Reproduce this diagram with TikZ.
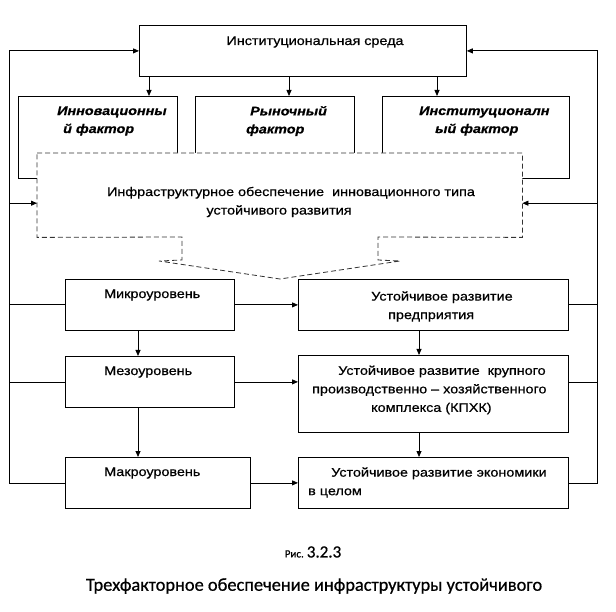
\documentclass[tikz,border=0pt]{standalone}
\usepackage{fontspec}
\setmainfont{Liberation Sans}[FakeStretch=1.15,FakeBold=0.6]
\newfontfamily\capfont{Carlito}[FakeBold=0.6]
\usetikzlibrary{arrows.meta}
\begin{document}
\begin{tikzpicture}[x=1pt,y=-1pt,
  box/.style={draw,line width=0.8pt,inner sep=0pt,anchor=north west},
  ln/.style={line width=0.8pt},
  arr/.style={line width=0.8pt,-{Triangle[length=6pt,width=5pt]}},
  txt/.style={inner sep=0pt,align=left,font=\fontsize{12.5}{18.5}\selectfont},
  fac/.style={inner sep=0pt,align=left,anchor=west,font=\fontsize{12.5}{18}\selectfont\bfseries\itshape},
  dsh/.style={line width=0.8pt,dash pattern=on 5pt off 3pt,draw=black!80}]
\useasboundingbox (0,0) rectangle (616,612);
\fill[white] (0,0) rectangle (616,612);
% top and factor boxes
\node[box,minimum width=327pt,minimum height=51pt] (top) at (139,25) {};
\node[box,minimum width=159pt,minimum height=82pt] (f1) at (18,96) {};
\node[box,minimum width=159pt,minimum height=82pt] (f2) at (195,96) {};
\node[box,minimum width=187pt,minimum height=82pt] (f3) at (382,96) {};
\node[txt] (ttop) at (315,42) {Институциональная среда};
\node[fac] (tf1) at (57,121) {Инновационны\\\hspace*{6pt}й фактор};
\node[fac] (tf2) at (246,121) {\hspace*{4pt}Рыночный\\фактор};
\node[fac] (tf3) at (419,121) {Институционалн\\\hspace*{16pt}ый фактор};
% infrastructure box with dashed arrow
\node[inner sep=0pt,minimum width=485pt,minimum height=84pt,anchor=north west] (infra) at (37,153) {};
\draw[dsh,fill=white] (infra.north west) -- (infra.north east) -- (infra.south east)
  -- (378,237) -- (378,260) -- (400,261) -- (280,279) coordinate (tip)
  -- (159,261) -- (182,260) -- (182,237) -- (infra.south west) -- cycle;
\node[txt,align=center] (tinfra) at (291,202) {Инфраструктурное обеспечение \ инновационного типа\\устойчивого развития\hspace*{24pt}};
% level boxes
\node[box,minimum width=169pt,minimum height=51pt] (mikro) at (65,279) {};
\node[box,minimum width=270pt,minimum height=51pt] (r1) at (298,279) {};
\node[box,minimum width=169pt,minimum height=51pt] (mezo) at (65,356) {};
\node[box,minimum width=270pt,minimum height=77pt] (r2) at (298,355) {};
\node[box,minimum width=185pt,minimum height=51pt] (makro) at (65,457) {};
\node[box,minimum width=270pt,minimum height=51pt] (r3) at (298,457) {};
\node[txt,anchor=west] (tmikro) at (104,295) {Микроуровень};
\node[txt,anchor=west] (tr1) at (371,306.5) {Устойчивое развитие\\\hspace*{17pt}предприятия};
\node[txt,anchor=west] (tmezo) at (104,372) {Мезоуровень};
\node[txt,anchor=west] (tr2) at (312,390) {\hspace*{26pt}Устойчивое развитие \ крупного\\производственно – хозяйственного\\\hspace*{59pt}комплекса (КПХК)};
\node[txt,anchor=west] (tmakro) at (104,473) {Макроуровень};
\node[txt,anchor=west] (tr3) at (308,482.5) {\hspace*{23pt}Устойчивое развитие экономики\\в целом};
% arrows
\coordinate (a1) at (149,0); \coordinate (a2) at (289,0); \coordinate (a3) at (437,0);
\draw[arr] (top.south -| a1) -- (f1.north -| a1);
\draw[arr] (top.south -| a2) -- (f2.north -| a2);
\draw[arr] (top.south -| a3) -- (f3.north -| a3);
\coordinate (lc) at (138,0); \coordinate (rc) at (419,0);
\draw[arr] (mikro.south -| lc) -- (mezo.north -| lc);
\draw[arr] (mezo.south -| lc) -- (makro.north -| lc);
\draw[arr] (r1.south -| rc) -- (r2.north -| rc);
\draw[arr] (r2.south -| rc) -- (r3.north -| rc);
\draw[arr] (mikro.east) -- (r1.west);
\draw[arr] (mezo.east) -- (mezo.east -| r2.west);
\draw[arr] (makro.east) -- (r3.west);
% feedback loops
\coordinate (LX) at (9,0); \coordinate (RX) at (597,0);
\coordinate (iw) at ([yshift=-8pt]infra.west);
\coordinate (ie) at ([yshift=-8pt]infra.east);
\draw[arr] (makro.west) -- (makro.west -| LX) -- (top.west -| LX) -- (top.west);
\draw[ln] (mikro.west) -- (mikro.west -| LX);
\draw[ln] (mezo.west) -- (mezo.west -| LX);
\draw[arr] (iw -| LX) -- (iw);
\draw[arr] (r3.east) -- (r3.east -| RX) -- (top.east -| RX) -- (top.east);
\draw[ln] (r1.east) -- (r1.east -| RX);
\draw[ln] (mezo.east -| r2.east) -- (mezo.east -| RX);
\draw[arr] (ie -| RX) -- (ie);
% caption
\node[inner sep=0pt,font=\capfont] (fig) at (313,552) {{\fontsize{11}{13}\selectfont Рис.} {\fontsize{17}{20}\selectfont 3.2.3}};
\node[inner sep=0pt,font=\capfont\fontsize{18.4}{22}\selectfont] (cap) at (314,586) {Трехфакторное обеспечение инфраструктуры устойчивого};
\end{tikzpicture}
\end{document}
